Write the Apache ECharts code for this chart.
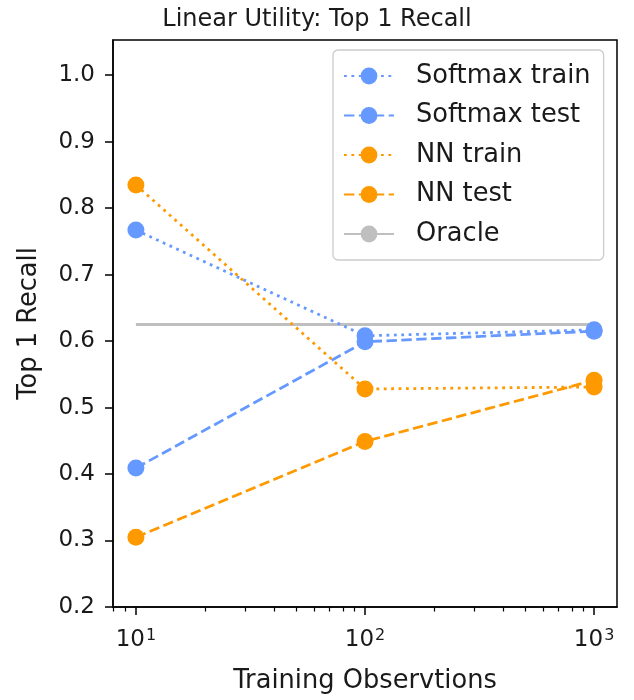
<!DOCTYPE html>
<html>
<head>
<meta charset="utf-8">
<script src="https://cdn.jsdelivr.net/npm/echarts@6/dist/echarts.min.js"></script>
<style>html,body{margin:0;padding:0;background:#fff}#c{width:634px;height:700px}</style>
</head>
<body>
<div id="c"></div>
<script>
// ---- data ----
var observations = [10, 100, 1000];
var softmaxTrain = [0.767, 0.608, 0.617];
var softmaxTest = [0.409, 0.599, 0.615];
var nnTrain = [0.835, 0.528, 0.531];
var nnTest = [0.305, 0.449, 0.541];
var oracleObs = [10, 1000];
var oracleValue = [0.625, 0.625];
var yTicks = [0.2, 0.3, 0.4, 0.5, 0.6, 0.7, 0.8, 0.9, 1.0];
var xMajorTicks = [10, 100, 1000];
var xTickBase = ['10', '10', '10'];
var xTickExp = ['1', '2', '3'];
var xMinorTicks = [8, 9, 20, 30, 40, 50, 60, 70, 80, 90, 200, 300, 400, 500, 600, 700, 800, 900];

function pts(xs, ys) { return xs.map(function (x, i) { return [Math.log10(x), ys[i]]; }); }
var FONT = 'DejaVu Sans';
var TXT = '#1a1a1a';
var BLUE = '#6699ff';
var ORANGE = '#ff9900';
var dotted = [2.8, 4.6];
var dashed = [10.4, 4.5];
var TICKF = 23, LABF = 25.7;

var chart = echarts.init(document.getElementById('c'), null, {renderer: 'canvas'});
var lineSeries = function (name, ys, color, dash) {
  return {
    name: name, type: 'line', data: pts(observations, ys),
    symbol: 'circle', symbolSize: 17,
    itemStyle: {color: color},
    lineStyle: {color: color, width: 2.8, type: dash, cap: 'butt'},
    emphasis: {disabled: true}, z: 3
  };
};
var majorLog = xMajorTicks.map(Math.log10);
chart.setOption({
  animation: false,
  textStyle: {fontFamily: FONT},
  title: {
    text: 'Linear Utility: Top 1 Recall', left: 'center', top: 3,
    textStyle: {fontFamily: FONT, fontSize: 24, fontWeight: 'normal', color: TXT}
  },
  grid: {left: 113, right: 17, top: 40, bottom: 93, show: true, borderColor: '#000', borderWidth: 1.5, backgroundColor: 'transparent'},
  legend: {
    left: 333, top: 50, orient: 'vertical',
    itemWidth: 50, itemHeight: 21, itemGap: 13.5,
    padding: [13, 13, 13, 10],
    backgroundColor: '#fff', borderColor: '#cccccc', borderWidth: 1.3, borderRadius: 5,
    textStyle: {fontFamily: FONT, fontSize: LABF, color: TXT, padding: [0, 0, 0, 17]},
    data: ['Softmax train', 'Softmax test', 'NN train', 'NN test', 'Oracle']
  },
  xAxis: [{
    type: 'value', min: 0.9, max: 3.1,
    name: 'Training Observtions', nameLocation: 'middle', nameGap: 61,
    nameTextStyle: {fontFamily: FONT, fontSize: LABF, color: TXT},
    axisLine: {lineStyle: {color: '#000', width: 1.5}},
    axisTick: {length: 8, lineStyle: {color: '#000', width: 1.5}, customValues: majorLog},
    axisLabel: {
      fontFamily: FONT, fontSize: TICKF, color: TXT, margin: 21,
      customValues: majorLog,
      formatter: function (v) {
        var i = majorLog.findIndex(function (t) { return Math.abs(t - v) < 1e-6; });
        return i >= 0 ? '{b|' + xTickBase[i] + '}{s|' + xTickExp[i] + '}' : '';
      },
      rich: {
        b: {fontFamily: FONT, fontSize: TICKF, color: TXT, verticalAlign: 'bottom', lineHeight: 24},
        s: {fontFamily: FONT, fontSize: 16, color: TXT, verticalAlign: 'top', lineHeight: 16, padding: [0, 0, 13, 1]}
      }
    },
    splitLine: {show: false}
  }, {
    type: 'value', min: 0.9, max: 3.1, position: 'bottom', gridIndex: 0,
    axisLine: {show: false},
    axisTick: {length: 4.5, lineStyle: {color: '#000', width: 1.2}, customValues: xMinorTicks.map(Math.log10)},
    axisLabel: {show: false},
    splitLine: {show: false}
  }],
  yAxis: {
    type: 'value', min: 0.2, max: 1.053,
    name: 'Top 1 Recall', nameLocation: 'middle', nameGap: 71,
    nameTextStyle: {fontFamily: FONT, fontSize: LABF, color: TXT},
    axisLine: {show: true, lineStyle: {color: '#000', width: 1.5}},
    axisTick: {show: true, length: 8, lineStyle: {color: '#000', width: 1.5}, customValues: yTicks},
    axisLabel: {fontFamily: FONT, fontSize: TICKF, color: TXT, margin: 18, customValues: yTicks,
      formatter: function (v) { return v.toFixed(1); }},
    splitLine: {show: false}
  },
  series: [
    {
      name: 'Oracle', type: 'line', data: pts(oracleObs, oracleValue), symbol: 'none',
      itemStyle: {color: '#bfbfbf'},
      lineStyle: {color: '#bfbfbf', width: 2.8, type: 'solid'}, emphasis: {disabled: true}, z: 2
    },
    lineSeries('Softmax train', softmaxTrain, BLUE, dotted),
    lineSeries('Softmax test', softmaxTest, BLUE, dashed),
    lineSeries('NN train', nnTrain, ORANGE, dotted),
    lineSeries('NN test', nnTest, ORANGE, dashed)
  ]
});
</script>
</body>
</html>
